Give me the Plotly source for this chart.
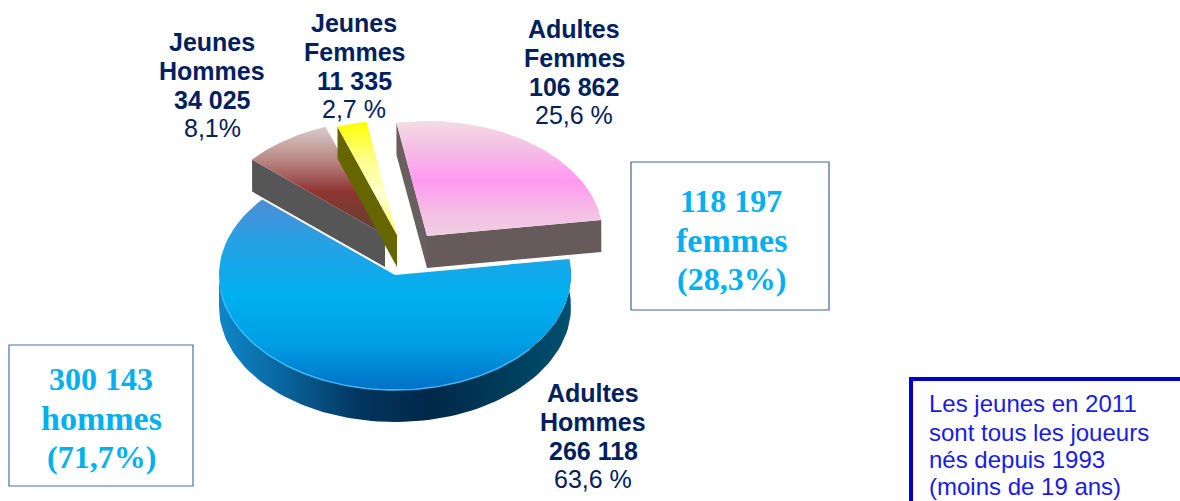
import numpy as np
import plotly.graph_objects as go

# Data, in the clockwise drawing order of the pie
categories = [["Adultes", "Femmes"], ["Adultes", "Hommes"], ["Jeunes", "Hommes"], ["Jeunes", "Femmes"]]
values = [106862, 266118, 34025, 11335]
percent_labels = ["25,6 %", "63,6 %", "8,1%", "2,7 %"]
value_labels = ["106 862", "266 118", "34 025", "11 335"]
total_boxes = [["300 143", "hommes", "(71,7%)"], ["118 197", "femmes", "(28,3%)"]]
note_lines = ["Les jeunes en 2011", "sont tous les joueurs", "nés depuis 1993", "(moins de 19 ans)"]

# Pie projection (pixels)
CX, CY, RX, RY, DEPTH = 395, 275, 176, 115, 32
START = 100.0
OFFSETS = [(32, -39), (0, 0), (-10, -40), (2, -40)]
# Colour stops listed from the top of the face to the bottom of the face
TOPS = [
    [[0, "#f2dce2"], [0.25, "#f5bde6"], [0.52, "#ff99f2"], [0.8, "#f4bfe4"], [1, "#f0cfe4"]],
    [[0, "#4f8cd6"], [0.2, "#2a9fe2"], [0.5, "#00b0f0"], [0.75, "#009fe6"], [1, "#0070c6"]],
    [[0, "#d8cccc"], [0.3, "#bb8a86"], [0.6, "#8f3533"], [1, "#5e4030"]],
    [[0, "#ffff00"], [0.35, "#ffff90"], [0.65, "#ffffd0"], [1, "#ffff60"]],
]

fracs = np.array(values) / sum(values)
ends = START - np.cumsum(fracs) * 360
starts = np.concatenate([[START], ends[:-1]])


def point(a, dx, dy, drop=0):
    r = np.radians(a)
    return CX + dx + RX * np.cos(r), CY + dy - RY * np.sin(r) + drop


def arc(a0, a1, dx, dy, drop=0, n=90):
    return point(np.linspace(a0, a1, n), dx, dy, drop)


fig = go.Figure()


def poly(x, y, grad=None, color=None):
    kw = dict(fillgradient=grad) if grad else dict(fillcolor=color)
    fig.add_trace(go.Scatter(x=list(x), y=list(y), mode="lines", fill="toself",
                             line=dict(width=0), hoverinfo="skip", showlegend=False, **kw))


def cut_side(a, dx, dy, color):
    ex, ey = point(a, dx, dy)
    ax, ay = CX + dx, CY + dy
    poly([ax, ex, ex, ax, ax], [ay, ey, ey + DEPTH, ay + DEPTH, ay], color=color)


def top(i):
    dx, dy = OFFSETS[i]
    x, y = arc(starts[i], ends[i], dx, dy)
    # the y axis runs downward, so the stops are flipped for the gradient
    scale = [[1 - p, c] for p, c in reversed(TOPS[i])]
    poly(np.r_[CX + dx, x, CX + dx], np.r_[CY + dy, y, CY + dy],
         grad=dict(type="vertical", colorscale=scale))


# Adultes Hommes: outer wall then face
x1, y1 = arc(starts[1], -180, *OFFSETS[1])
x2, y2 = arc(-180, starts[1], *OFFSETS[1], drop=DEPTH)
poly(np.r_[x1, x2], np.r_[y1, y2],
     grad=dict(type="horizontal", colorscale=[[0, "#0f86c8"], [0.15, "#0a6ca6"], [0.4, "#03355f"],
                                              [0.6, "#002848"], [0.85, "#00405f"], [1, "#005070"]]))
top(1)
xr, yr = arc(-40, -172, *OFFSETS[1])
fig.add_trace(go.Scatter(x=xr, y=yr, mode="lines", line=dict(width=1.5, color="#3bb8f0"),
                         hoverinfo="skip", showlegend=False))

# Jeunes Hommes
cut_side(ends[1], *OFFSETS[2], "#565656")
top(2)
# Jeunes Femmes
cut_side(ends[2], *OFFSETS[3], "#666600")
top(3)
# Adultes Femmes
cut_side(START, *OFFSETS[0], "#6a5f5f")
cut_side(ends[0], *OFFSETS[0], "#665a5a")
top(0)

NAVY = "#002060"
CYAN = "#00b0f0"
label_pos = [(574, 29), (593, 393), (212, 42), (354, 23)]
ann = []


def text(x, y, s, size, color, family="Liberation Sans", bold=False, anchor="center"):
    ann.append(dict(x=x, y=y, xref="x", yref="y", text=f"<b>{s}</b>" if bold else s, showarrow=False,
                    xanchor=anchor, yanchor="middle",
                    font=dict(family=family, size=size, color=color)))


for i, (lx, ly) in enumerate(label_pos):
    text(lx, ly, categories[i][0], 25, NAVY, bold=True)
    text(lx, ly + 29, categories[i][1], 25, NAVY, bold=True)
    text(lx, ly + 58, value_labels[i], 25, NAVY, bold=True)
    text(lx, ly + 86, percent_labels[i], 25, NAVY)

for box, (bx, by) in zip(total_boxes, [(101, 379), (731, 201)]):
    for j, (s, size) in enumerate(zip(box, [32, 34, 32])):
        text(bx, by + j * 39, s, size, CYAN, family="Liberation Serif", bold=True)

for s, ny in zip(note_lines, [403, 432, 459, 486]):
    text(927, ny, s, 24, "#1a1ae6", anchor="left")

shapes = [
    dict(type="rect", x0=9, x1=193, y0=345, y1=486, line=dict(color="#4f6f9f", width=1.2)),
    dict(type="rect", x0=631, x1=829, y0=162, y1=310, line=dict(color="#3f6499", width=1.2)),
    dict(type="line", x0=911, x1=911, y0=377, y1=501, line=dict(color="#0000cc", width=4)),
    dict(type="line", x0=909, x1=1180, y0=379, y1=379, line=dict(color="#0000cc", width=4)),
]

fig.update_layout(
    width=1180, height=501, margin=dict(l=0, r=0, t=0, b=0),
    paper_bgcolor="white", plot_bgcolor="white", showlegend=False,
    xaxis=dict(range=[0, 1180], visible=False, fixedrange=True),
    yaxis=dict(range=[501, 0], visible=False, fixedrange=True),
    annotations=ann, shapes=shapes,
)
fig.write_html("out.html", config=dict(displayModeBar=False),
               post_script="document.body.style.margin='0';document.body.style.overflow='hidden';")
